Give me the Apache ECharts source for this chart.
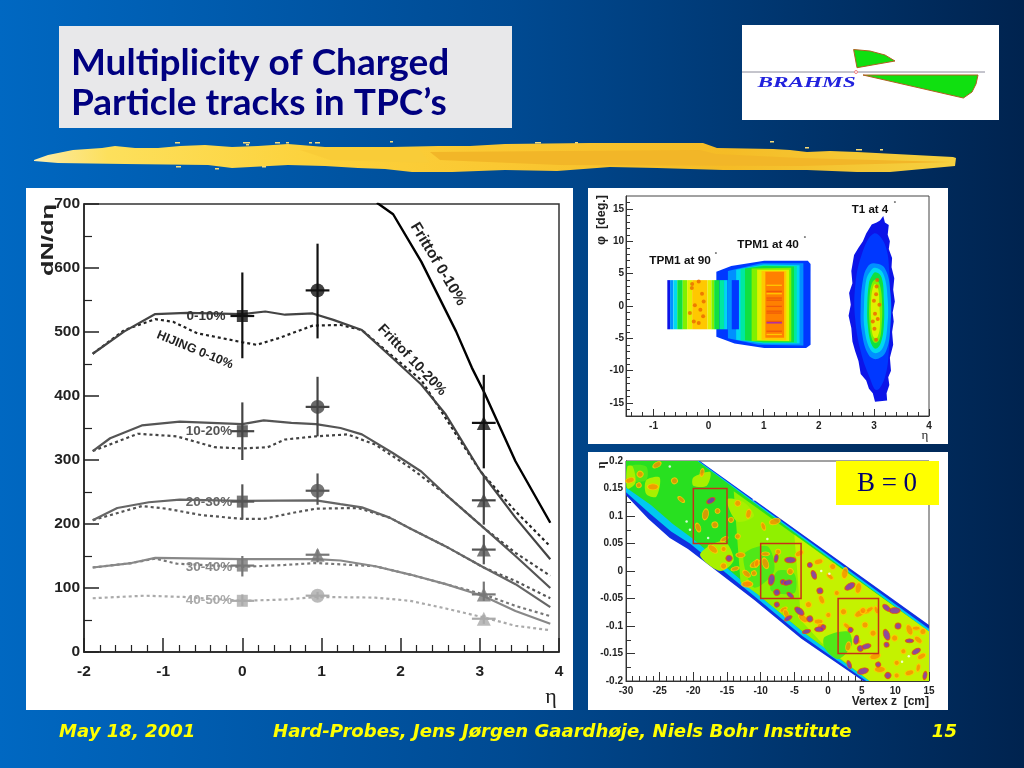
<!DOCTYPE html>
<html><head><meta charset="utf-8"><style>html,body{margin:0;padding:0;background:#004a92}#c{width:1024px;height:768px}</style>
<script src="https://cdn.jsdelivr.net/npm/echarts@6/dist/echarts.min.js"></script></head><body><div id="c"></div>
<script>
// ---------- main panel data: [eta, dN/deta] ----------
const frittof0010=[[1.7,702],[1.905,684],[2.26,610],[2.7,501],[2.9,444],[3.05,407],[3.45,298],[3.89,202]];
const solid0010=[[-1.89,466],[-1.49,501],[-1.1,528],[-0.7,530],[0,528],[0.29,532],[0.54,527],[0.89,529],[1.15,519],[1.51,503],[1.9,459],[2.26,418],[2.57,371],[3.01,282],[3.45,210],[3.89,145]];
const hijing0010=[[-1.89,466],[-1.49,503],[-1.1,520],[-0.875,516],[-0.57,498],[0,484],[0.18,480],[0.45,490],[0.89,510],[1.24,511],[1.51,503],[1.9,462],[2.26,425],[2.7,340],[3.01,282],[3.45,220],[3.89,165]];
const solid1020=[[-1.89,314],[-1.67,334],[-1.27,354],[-0.79,360],[0,356],[0.27,362],[0.62,358],[0.93,356],[1.24,350],[1.51,340],[1.9,311],[2.26,282],[2.57,246],[3.05,194],[3.45,150],[3.89,100]];
const hijing1020=[[-1.89,314],[-1.32,341],[-0.83,337],[-0.35,320],[0,318],[0.32,320],[0.54,332],[0.93,337],[1.33,340],[1.68,324],[2.12,288],[2.57,246],[3.05,194],[3.45,155],[3.89,119]];
const solid2030=[[-1.89,206],[-1.58,225],[-1.18,234],[-0.79,238],[0,236],[0.93,237],[1.24,231],[1.51,226],[1.86,210],[2.12,193],[2.57,165],[3.05,132],[3.45,106],[3.89,70]];
const hijing2030=[[-1.89,206],[-1.27,228],[-0.96,224],[-0.52,214],[0,208],[0.27,208],[0.62,217],[0.93,224],[1.46,225],[1.86,210],[2.12,193],[2.57,165],[3.05,132],[3.45,111],[3.89,84]];
const solid3040=[[-1.89,132],[-1.4,139],[-1.1,147],[0,145],[0.93,145],[1.24,143],[1.68,134],[2.12,121],[2.57,106],[3.05,87],[3.45,64],[3.89,44]];
const hijing3040=[[-1.89,132],[-1.4,139],[-1.1,146],[-0.83,138],[0,133],[0.54,136],[0.93,139],[1.68,134],[2.12,121],[2.57,106],[3.05,90],[3.45,72],[3.89,56]];
const hijing4050=[[-1.89,84],[-1.23,88],[-0.74,86],[0,80],[0.54,82],[0.93,86],[1.68,85],[2.12,80],[2.57,68],[3.05,54],[3.45,41],[3.89,34]];
// measurements: [eta, value, low, high]
const meas0010=[[0,525,459,593],[0.95,565,490,638],[3.05,358,287,433]];
const meas1020=[[0,345,300,390],[0.95,383,337,430],[3.05,237,199,277]];
const meas2030=[[0,235,207,262],[0.95,252,230,279],[3.05,160,137,183]];
const meas3040=[[0,135,118,150],[0.95,152,140,160],[3.05,90,80,110]];
const meas4050=[[0,80,72,90],[0.95,88,82,94],[3.05,52,44,58]];
// ---------- eta/phi panel ----------
const t90Edges=[-0.75,-0.7,-0.64,-0.57,-0.47,-0.39,-0.3,-0.02,0.05,0.1,0.2,0.28,0.34,0.42,0.55];
const t90Levels=[0,2,3,5,6,7,8,7,6,5,4,3,2,1];
const t90Range=[-3.6,4.0];
const t90Spots=[[-0.305,2.78],[-0.18,3.8],[-0.09,0.71],[-0.15,-0.57],[-0.27,-2.4],[-0.18,-2.63],[-0.34,-1.09],[-0.12,1.9],[-0.25,0.1],[-0.3,3.4],[-0.1,-1.6]];
const t40Shapes=[
 [1,[[0.14,-4.75],[0.47,-5.8],[1.01,-6.5],[1.77,-6.5],[1.85,-6.0],[1.85,6.5],[1.8,7.0],[1.01,7.0],[0.41,6.2],[0.14,5.3]]],
 [2,[[0.35,-5],[0.9,-6],[1.72,-6.1],[1.72,6.6],[0.95,6.6],[0.35,5.4]]],
 [3,[[0.5,-5.2],[1.0,-5.8],[1.65,-5.8],[1.65,6.3],[1.0,6.4],[0.5,5.6]]],
 [4,[[0.58,-5.3],[1.0,-5.7],[1.6,-5.7],[1.6,6.2],[1.0,6.3],[0.58,5.7]]],
 [5,[[0.66,-5.3],[1.0,-5.6],[1.55,-5.6],[1.55,6.1],[1.0,6.2],[0.66,5.8]]],
 [6,[[0.78,-5.4],[1.5,-5.5],[1.5,5.9],[0.78,5.8]]],
 [7,[[0.88,-5.3],[1.46,-5.4],[1.46,5.6],[0.88,5.6]]],
 [8,[[0.96,-5.2],[1.41,-5.3],[1.41,5.4],[0.96,5.4]]],
 [9,[[1.03,-4.9],[1.37,-4.9],[1.37,5.3],[1.03,5.3]]]];
const t40Stripes=[[12,2.26],[12,1.23],[12,0.9],[12,-0.06],[12,-0.8],[12,-1.09],[12,-2.38],[11,-2.6],[12,-3.9],[8,3.2],[8,-4.4],[8,1.9]];
const t1Shapes=[
 [0,[[3.17,13.9],[3.2,12.9],[3.27,12.5],[3.25,11],[3.29,10],[3.27,8.8],[3.33,7.4],[3.32,6],[3.37,4.3],[3.35,2.5],[3.38,0.7],[3.34,-1],[3.36,-2.4],[3.33,-4],[3.35,-6],[3.29,-8],[3.31,-10],[3.26,-11],[3.28,-12.2],[3.23,-13.5],[3.24,-14.6],[3.02,-14.8],[2.98,-13.5],[2.91,-12.8],[2.86,-11.5],[2.76,-10.5],[2.72,-8.5],[2.66,-7],[2.61,-5.5],[2.59,-3.4],[2.54,-1.5],[2.58,0.2],[2.55,2],[2.61,3.5],[2.59,5.4],[2.64,7.9],[2.72,9],[2.8,10],[2.86,11.2],[2.96,12.6],[3.05,12.9],[3.11,13.2]]],
 [1,[[3.0,11.2],[3.2,9.5],[3.28,5],[3.29,-1],[3.27,-7],[3.2,-11],[3.05,-13],[2.92,-11],[2.76,-7],[2.66,-2],[2.66,3],[2.78,8]]],
 [2,[[3.0,6.6],[3.2,5.8],[3.3,2],[3.3,-3],[3.22,-7],[3.05,-8.2],[2.9,-7.5],[2.78,-4],[2.76,0],[2.8,4],[2.88,6]]],
 [3,[[3.02,5.9],[3.17,5],[3.25,1],[3.24,-3.5],[3.16,-6.5],[3.03,-7.3],[2.92,-6.5],[2.83,-3.5],[2.82,0],[2.86,4],[2.93,5.3]]],
 [5,[[3.03,5.2],[3.14,4.4],[3.18,1],[3.18,-3],[3.12,-5.8],[3.03,-6.6],[2.95,-5.8],[2.89,-3],[2.88,0],[2.91,3.5],[2.96,4.6]]],
 [6,[[3.03,4.1],[3.11,3.2],[3.15,0],[3.14,-3],[3.1,-5.2],[3.02,-5.7],[2.96,-5],[2.92,-2.5],[2.92,1],[2.96,3.4]]],
 [7,[[3.02,3.4],[3.08,2.5],[3.1,0],[3.11,-3],[3.07,-4.7],[3.02,-5],[2.97,-4.2],[2.95,-2],[2.95,1],[2.98,2.8]]]];
const t1Spots=[[3.06,4.0],[3.04,1.8],[3.1,0.2],[2.98,-2.4],[3.01,-3.5],[3.04,-5.2],[3.02,-1.2],[3.07,-2],[3.0,0.8],[3.05,3.0]];
const heatPalette=['#0c14e8','#0038ff','#0090ff','#00d8f0','#00e8a0','#10e040','#80f000','#e0f000','#ffc800','#ff8000','#e83000','#a020c0','#f05a08'];
// ---------- vertex panel ----------
const bandOuter=[[-30,0.2],[-19.03,0.2],[15,-0.098],[15,-0.2],[5.2,-0.2],[-4,-0.1225],[-10.9,-0.053],[-20.8,0.04],[-23.5,0.06],[-26.7,0.095],[-30,0.1376]];
const bandCyan=[[-30,0.2],[-19.2,0.2],[15,-0.105],[15,-0.2],[5.7,-0.2],[-3.8,-0.118],[-10.7,-0.048],[-20.5,0.05],[-23.3,0.072],[-26.5,0.105],[-30,0.143]];
const bandGreen=[[-30,0.2],[-19.4,0.2],[15,-0.11],[15,-0.2],[6.2,-0.2],[-3.6,-0.112],[-10.5,-0.042],[-20.2,0.06],[-23,0.085],[-26.3,0.12],[-30,0.152]];
const bandLime=[[-14,0.145],[15,-0.11],[15,-0.2],[6.2,-0.2],[-3.6,-0.112],[-10.5,-0.042],[-13,-0.02]];
const bandYellow=[[-5,0.066],[15,-0.11],[15,-0.2],[6.2,-0.2],[2,-0.16],[-1,-0.13],[-4,-0.09]];
const greenPatches=[[[-0.5,-0.12],[3,-0.11],[3.5,-0.135],[1.5,-0.16],[-0.5,-0.14]],[[-12.5,0.03],[-9,0.045],[-8,0.0],[-11,-0.03]],[[-7.5,0.0],[-5,-0.005],[-5,-0.04],[-8.5,-0.035]],[[-29.5,0.19],[-27,0.19],[-27,0.165],[-29.5,0.165]]];
const yellowPatches=[[[-29.8,0.19],[-29,0.19],[-28.6,0.16],[-29.8,0.15]],[[-20,0.17],[-17.5,0.18],[-18,0.155],[-20,0.155]],[[-15,0.13],[-12.5,0.125],[-11,0.1],[-13.5,0.09]],[[-27,0.165],[-25,0.17],[-25.5,0.135],[-27,0.14]],[[-19,0.03],[-15.5,0.055],[-14,0.02],[-16,-0.0]]];
const orangeBlobs=[[-25.4,0.193],[-27.9,0.176],[-18.7,0.179],[-26,0.153],[-28.1,0.156],[-29.4,0.165],[-22.8,0.164],[-21.8,0.13],[-18.2,0.103],[-16.4,0.109],[-19.3,0.079],[-16.8,0.084],[-15.4,0.058],[-17.1,0.04],[-15.5,0.04],[-13,0.029],[-15.5,0.009],[-13.8,0.004],[-10.8,0.013],[-13.4,0.063],[-11.8,0.104],[-13.4,0.123],[-9.6,0.081],[-7.9,0.09],[-14.4,0.093],[-12.1,-0.005],[-11.9,-0.023],[-9.3,0.031],[-9.3,0.014],[-7.4,0.035],[-4.25,0.032],[-5.6,-0.001],[-10.6,0.014],[-12,-0.024],[-11,-0.004],[-1.4,0.017],[0.7,0.008],[0.3,-0.01],[2.5,-0.004],[1.3,-0.04],[-0.95,-0.052],[-2.9,-0.061],[-6.6,-0.07],[-3.7,-0.086],[0.05,-0.08],[-1.4,-0.092],[2.3,-0.074],[5.7,-0.074],[4.7,-0.077],[4.5,-0.128],[3,-0.137],[5.5,-0.098],[7.2,-0.071],[7,-0.155],[10.2,-0.167],[13.4,-0.125],[14.1,-0.11],[13.1,-0.104],[12.1,-0.107],[11.2,-0.146],[13.9,-0.155],[9.9,-0.122],[13.4,-0.176],[7.7,-0.179],[10.2,-0.19],[12.1,-0.185],[6.7,-0.113],[2.8,-0.1],[4.5,-0.031],[-1.2,-0.1],[-6.2,-0.078],[5.2,-0.072],[6.2,-0.07]];
const purpleBlobs=[[-17.4,0.128],[-14.7,0.023],[-7.7,0.023],[-5.6,0.02],[-6.7,-0.02],[-6.0,-0.021],[-7.6,-0.039],[-5.6,-0.044],[-8.4,-0.016],[-2.7,0.011],[-2.1,-0.007],[-1.2,-0.036],[-5.9,-0.086],[-4.25,-0.073],[-0.7,-0.102],[-1.3,-0.106],[-2.7,-0.087],[-3.2,-0.11],[3.25,-0.028],[3.35,-0.107],[4.2,-0.125],[4.8,-0.141],[3.15,-0.17],[5.2,-0.182],[7.45,-0.17],[8.7,-0.067],[10.4,-0.1],[12.1,-0.127],[8.7,-0.116],[8.7,-0.134],[13.1,-0.146],[8.9,-0.19],[14.4,-0.19],[9.9,-0.072],[-7.6,-0.061],[5.7,-0.137]];
const whiteSpecks=[[-21,0.09],[-20.5,0.075],[-11,0.13],[-17.8,0.06],[-9,0.058],[-23.5,0.19],[-1,-0.0],[0.2,-0.005],[11,-0.165],[12,-0.155]];
const vertexBoxes=[[-20,-15,0.05,0.15],[-10,-4,-0.05,0.05],[1.5,7.5,-0.15,-0.05]];
// ---------- slide text ----------
const titleLines=['Multiplicity of Charged','Particle tracks in TPC\u2019s'];
const footerTexts=['May 18, 2001','Hard-Probes, Jens J\u00f8rgen Gaardh\u00f8je, Niels Bohr Institute','15'];
const curveLabels=[['0-10%','#333',206,316,0,13.5],['10-20%','#555',209,431,0,13.5],['20-30%','#666',209,502,0,13.5],['30-40%','#888',209,567,0,13.5],['40-50%','#aaa',209,600,0,13.5],['HIJING 0-10%','#222',195,350,-0.39,12.5],['Frittof 0-10%','#222',438,264,-1.03,15.5],['Frittof 10-20%','#222',412,360,-0.81,14]];
const brushOutline=[[34,160],[48,155],[73,150],[102,148],[115,146],[135,148],[158,148],[180,146],[205,145],[232,147],[258,146],[288,144],[325,147],[392,147],[438,146],[470,146],[505,144],[590,143],[703,143],[717,148],[773,149],[790,150],[807,152],[830,151],[857,152],[953,157],[956,158],[955,166],[890,172],[857,172],[807,170],[723,170],[657,168],[610,167],[557,171],[505,170],[452,172],[412,172],[385,169],[358,168],[325,166],[288,165],[232,168],[208,165],[125,164],[58,163],[34,161]];
const brushStreaks=[[[430,152],[700,150],[716,154],[800,158],[950,162],[800,166],[560,165],[440,160]],[[300,150],[420,150],[430,163],[330,160]]];
const brushSpecks=[[175,142,5],[243,142,7],[246,144,3],[275,142,5],[286,142,3],[309,142,3],[315,142,5],[390,141,3],[176,166,5],[215,168,4],[262,166,4],[535,142,6],[575,142,3],[770,141,4],[805,147,4],[856,149,6],[880,149,3]];

const sf='"Liberation Sans",Arial,sans-serif';
const chart=echarts.init(document.getElementById('c'));
const polyItem=list=>(params,api)=>{const p=list[params.dataIndex];return{type:'polygon',shape:{points:p.pts.map(q=>api.coord(q)),smooth:p.smooth||0},style:{fill:p.fill}};};
const polySeries=(list,xi,yi,z)=>({type:'custom',xAxisIndex:xi,yAxisIndex:yi,clip:true,silent:true,z:z||2,renderItem:polyItem(list),data:list.map((_,i)=>[i])});
const rectPts=(a,b,c,d)=>[[a,c],[b,c],[b,d],[a,d]];

const heatLayers=[];
t40Shapes.forEach(s=>heatLayers.push({pts:s[1],fill:heatPalette[s[0]]}));
t40Stripes.forEach(s=>heatLayers.push({pts:rectPts(1.05,1.33,s[1]-0.1,s[1]+0.1),fill:heatPalette[s[0]]}));
t90Levels.forEach((l,i)=>heatLayers.push({pts:rectPts(t90Edges[i],t90Edges[i+1],t90Range[0],t90Range[1]),fill:heatPalette[l]}));
t1Shapes.forEach((s,i)=>heatLayers.push({pts:s[1],fill:heatPalette[s[0]],smooth:i?0.4:0}));
const vertexLayers=[{pts:bandOuter,fill:'#1030e0'},{pts:bandCyan,fill:'#00c8f0'},{pts:bandGreen,fill:'#28e020'},{pts:bandLime,fill:'#90f000'},{pts:bandYellow,fill:'#c4f200'}];
greenPatches.forEach(p=>vertexLayers.push({pts:p,fill:'#50e818',smooth:0.3}));
yellowPatches.forEach(p=>vertexLayers.push({pts:p,fill:'#a8f000',smooth:0.3}));

const curve=(data,color,dash,w)=>({type:'line',xAxisIndex:0,yAxisIndex:0,data:data,showSymbol:false,symbol:'none',silent:true,clip:true,lineStyle:{color:color,width:w||2.2,type:dash?[3,3]:'solid'},z:3});
const measColors=['#111','#444','#555','#777','#aaa'];
const measAll=[meas0010,meas1020,meas2030,meas3040,meas4050];
const errSeries=measAll.map((m,k)=>({type:'custom',xAxisIndex:0,yAxisIndex:0,silent:true,z:4,data:m,
  renderItem:(params,api)=>{const x=api.value(0),y=api.value(1),lo=api.value(2),hi=api.value(3);
    const a=api.coord([x,lo]),b=api.coord([x,hi]),c=api.coord([x-0.15,y]),d=api.coord([x+0.15,y]);
    const st={stroke:measColors[k],lineWidth:2.2};
    return{type:'group',children:[{type:'line',shape:{x1:a[0],y1:a[1],x2:b[0],y2:b[1]},style:st},{type:'line',shape:{x1:c[0],y1:c[1],x2:d[0],y2:d[1]},style:st}]};}}));
const markSym=(k,i)=>i===0?'rect':(i===2||k===3)?'triangle':'circle';
const markSeries=measAll.map((m,k)=>({type:'scatter',xAxisIndex:0,yAxisIndex:0,silent:true,z:5,
  data:m.map((r,i)=>({value:[r[0],r[1]],symbol:markSym(k,i),symbolSize:i===0?[11,12]:14})),itemStyle:{color:measColors[k]}}));

const boxTick=(a)=>Object.assign({show:true,inside:true,lineStyle:{color:'#333',width:1}},a);
const bigLabel={color:'#222',fontFamily:sf,fontWeight:'bold',fontSize:15.5,showMinLabel:true,showMaxLabel:true};
const smallLabel={color:'#222',fontFamily:sf,fontWeight:'bold',fontSize:10,showMinLabel:true,showMaxLabel:true};
const xAxes=[
 {gridIndex:0,type:'value',min:-2,max:4,interval:1,splitLine:{show:false},axisLine:{onZero:false,lineStyle:{color:'#222',width:1.5}},
  axisTick:boxTick({length:14,lineStyle:{color:'#222',width:1.5}}),minorTick:{show:true,splitNumber:5,length:7,lineStyle:{color:'#222',width:1.2}},
  axisLabel:Object.assign({margin:12},bigLabel)},
 {gridIndex:1,type:'value',position:'bottom',min:-1.5,max:4,splitLine:{show:false},axisLine:{onZero:false,lineStyle:{color:'#333'}},
  axisTick:boxTick({length:7,customValues:[-1,0,1,2,3,4]}),
  axisLabel:Object.assign({},smallLabel,{customValues:[-1,0,1,2,3,4],margin:5})},
 {gridIndex:1,type:'value',position:'bottom',min:-1.5,max:4,splitLine:{show:false},axisLine:{show:false,onZero:false},
  axisTick:boxTick({length:4,customValues:[-1.4,-1.2,-0.8,-0.6,-0.4,-0.2,0.2,0.4,0.6,0.8,1.2,1.4,1.6,1.8,2.2,2.4,2.6,2.8,3.2,3.4,3.6,3.8]}),axisLabel:{show:false}},
 {gridIndex:2,type:'value',min:-30,max:15,interval:5,splitLine:{show:false},axisLine:{onZero:false,lineStyle:{color:'#333'}},
  axisTick:boxTick({length:9}),minorTick:{show:true,splitNumber:5,length:5,lineStyle:{color:'#333'}},
  axisLabel:Object.assign({margin:5},smallLabel)}];
const yAxes=[
 {gridIndex:0,type:'value',min:0,max:700,interval:100,splitLine:{show:false},axisLine:{onZero:false,lineStyle:{color:'#222',width:1.5}},
  axisTick:boxTick({length:15,lineStyle:{color:'#222',width:1.5}}),minorTick:{show:true,splitNumber:2,length:8,lineStyle:{color:'#222',width:1.2}},
  axisLabel:Object.assign({margin:4},bigLabel)},
 {gridIndex:1,type:'value',position:'left',min:-17,max:17,splitLine:{show:false},axisLine:{onZero:false,lineStyle:{color:'#333'}},
  axisTick:boxTick({length:7,customValues:[-15,-10,-5,0,5,10,15]}),
  axisLabel:Object.assign({},smallLabel,{customValues:[-15,-10,-5,0,5,10,15],margin:2})},
 {gridIndex:1,type:'value',position:'left',min:-17,max:17,splitLine:{show:false},axisLine:{show:false,onZero:false},
  axisTick:boxTick({length:4,customValues:[-16,-14,-13,-12,-11,-9,-8,-7,-6,-4,-3,-2,-1,1,2,3,4,6,7,8,9,11,12,13,14,16]}),axisLabel:{show:false}},
 {gridIndex:2,type:'value',min:-0.2,max:0.2,interval:0.05,splitLine:{show:false},axisLine:{onZero:false,lineStyle:{color:'#333'}},
  axisTick:boxTick({length:9}),minorTick:{show:true,splitNumber:2,length:5,lineStyle:{color:'#333'}},
  axisLabel:Object.assign({margin:3},smallLabel)}];

const txt=(t,x,y,font,fill,o)=>Object.assign({type:'text',x:x,y:y,z:100,silent:true,style:{text:t,font:font,fill:fill,textAlign:(o&&o.al)||'center',textVerticalAlign:'middle'}},o&&o.rot?{rotation:o.rot}:{},o&&o.sx?{scaleX:o.sx}:{});
const rect=(x,y,w,h,fill,z)=>({type:'rect',x:x,y:y,z:z||-10,silent:true,shape:{x:0,y:0,width:w,height:h},style:{fill:fill}});
const poly=(pts,fill,z)=>({type:'polygon',z:z||-5,silent:true,shape:{points:pts},style:{fill:fill}});

const titleFont='bold 37px Lato,sans-serif';
const footFont='italic bold 18.1px "DejaVu Sans",sans-serif';
const brushFill=new echarts.graphic.LinearGradient(0,0,1,0,[{offset:0,color:'#fff0b0'},{offset:0.03,color:'#fce68a'},{offset:0.08,color:'#fde05c'},{offset:0.3,color:'#fcd23c'},{offset:0.5,color:'#fac832'},{offset:0.75,color:'#f5bc26'},{offset:1,color:'#f5d040'}]);
const graphics=[
 rect(59,26,453,102,'#e8e8ea'),rect(742,25,257,95,'#fff'),
 rect(26,188,547,522,'#fff'),rect(588,188,360,256,'#fff'),rect(588,452,360,258,'#fff'),
 txt(titleLines[0],71,63,titleFont,'#000080',{al:'left'}),txt(titleLines[1],71,103,titleFont,'#000080',{al:'left'}),
 txt(footerTexts[0],59,732,footFont,'#ffff00',{al:'left'}),txt(footerTexts[1],273,732,footFont,'#ffff00',{al:'left'}),txt(footerTexts[2],957,732,footFont,'#ffff00',{al:'right'}),
 poly(brushOutline,brushFill),
 poly(brushStreaks[0],'#f2b628'),poly(brushStreaks[1],'#f9cc38'),
 {type:'line',z:-5,silent:true,shape:{x1:742,y1:72,x2:985,y2:72},style:{stroke:'#8a8a9a',lineWidth:1}},
 {type:'polygon',z:-4,silent:true,shape:{points:[[853.6,49.5],[870,51],[885,55],[895,61],[857,67.7]]},style:{fill:'#10e010',stroke:'#b06020',lineWidth:1}},
 {type:'polygon',z:-4,silent:true,shape:{points:[[863,75],[978,75],[976,84],[972,92],[963.4,98]]},style:{fill:'#10e010',stroke:'#b06020',lineWidth:1}},
 {type:'circle',z:-4,silent:true,shape:{cx:856,cy:72,r:1.5},style:{fill:'#fff',stroke:'#f08080',lineWidth:1}},
 txt('BRAHMS',806.5,83,'italic bold 15.5px "Liberation Serif",serif','#2222dd',{sx:1.5}),
 rect(836,461,103,44,'#ffff00',90),txt('B = 0',887,484,'27px "Liberation Serif",serif','#000070'),
 txt('dN/d\u03b7',48,240,'bold 17px '+sf,'#222',{rot:Math.PI/2,sx:1.5}),
 txt('\u03b7',551,697,'22px "Liberation Serif",serif','#222'),
 txt('\u03c6  [deg.]',602,220,'bold 12.5px '+sf,'#222',{rot:Math.PI/2}),
 txt('\u03b7',925,436,'13px "Liberation Serif",serif','#222'),
 txt('\u03b7',602,465,'bold 13px "Liberation Serif",serif','#222',{rot:Math.PI/2}),
 txt('Vertex z  [cm]',929,702,'bold 12px '+sf,'#222',{al:'right'}),
 txt('TPM1 at 90',680,261,'bold 11.8px '+sf,'#111'),txt('\u02da',716,256,'bold 8px '+sf,'#111'),
 txt('TPM1 at 40',768,245,'bold 11.8px '+sf,'#111'),txt('\u02da',805,240,'bold 8px '+sf,'#111'),
 txt('T1 at 4',870,210,'bold 11.5px '+sf,'#111'),txt('\u02da',895,205,'bold 8px '+sf,'#111')
];
brushSpecks.forEach(s=>graphics.push(rect(s[0],s[1],s[2],1.5,'#f8dc78',-5)));
curveLabels.forEach(l=>graphics.push(txt(l[0],l[2],l[3],'bold '+l[5]+'px '+sf,l[1],{rot:l[4]})));

const blobSizes=[[9,5],[6,6],[8,4],[11,6],[5,5]];
const blobRots=[30,-40,80,0,-70,15];
const blobSize=(v,p)=>blobSizes[p.dataIndex%blobSizes.length];
const blobRot=(v,p)=>blobRots[p.dataIndex%blobRots.length];
const series=[
 curve(frittof0010,'#000',false,2.4),
 curve(hijing0010,'#222',true),curve(solid0010,'#444',false),
 curve(hijing1020,'#444',true),curve(solid1020,'#555',false),
 curve(hijing2030,'#555',true),curve(solid2030,'#666',false),
 curve(hijing3040,'#777',true),curve(solid3040,'#888',false),
 curve(hijing4050,'#aaa',true),
 ...errSeries,...markSeries,
 polySeries(heatLayers,1,1,2),
 {type:'scatter',xAxisIndex:1,yAxisIndex:1,silent:true,z:3,symbolSize:4,data:t90Spots,itemStyle:{color:'#e86800'}},
 {type:'scatter',xAxisIndex:1,yAxisIndex:1,silent:true,z:3,symbolSize:4,data:t1Spots,itemStyle:{color:'#f06000'}},
 polySeries(vertexLayers,3,3,2),
 {type:'scatter',xAxisIndex:3,yAxisIndex:3,silent:true,z:3,symbol:'circle',symbolSize:blobSize,symbolRotate:blobRot,data:orangeBlobs,itemStyle:{color:'#ff8a00',borderColor:'#ffd000',borderWidth:1}},
 {type:'scatter',xAxisIndex:3,yAxisIndex:3,silent:true,z:4,symbol:'circle',symbolSize:blobSize,symbolRotate:blobRot,data:purpleBlobs,itemStyle:{color:'#8020c0',borderColor:'#f05000',borderWidth:1}},
 {type:'scatter',xAxisIndex:3,yAxisIndex:3,silent:true,z:4,symbolSize:2.5,data:whiteSpecks,itemStyle:{color:'#fff'}},
 {type:'custom',xAxisIndex:3,yAxisIndex:3,silent:true,z:5,data:vertexBoxes,
  renderItem:(p,api)=>{const a=api.coord([api.value(0),api.value(3)]),b=api.coord([api.value(1),api.value(2)]);
   return{type:'rect',shape:{x:a[0],y:a[1],width:b[0]-a[0],height:b[1]-a[1]},style:{fill:'none',stroke:'#c83018',lineWidth:1.5}};}}
];
chart.setOption({
 animation:false,
 backgroundColor:new echarts.graphic.LinearGradient(0,0,1,0,[{offset:0,color:'#0068c2'},{offset:0.5,color:'#004a92'},{offset:1,color:'#00234f'}]),
 grid:[
  {left:84,top:204,width:475,height:448,show:true,borderColor:'#333',borderWidth:1.5,backgroundColor:'transparent'},
  {left:626,top:196,width:303,height:220,show:true,borderColor:'#444',borderWidth:1,backgroundColor:'transparent'},
  {left:626,top:461,width:303,height:220,show:true,borderColor:'#444',borderWidth:1,backgroundColor:'transparent'}],
 xAxis:xAxes,yAxis:yAxes,series:series,graphic:{elements:graphics}
});
</script></body></html>
